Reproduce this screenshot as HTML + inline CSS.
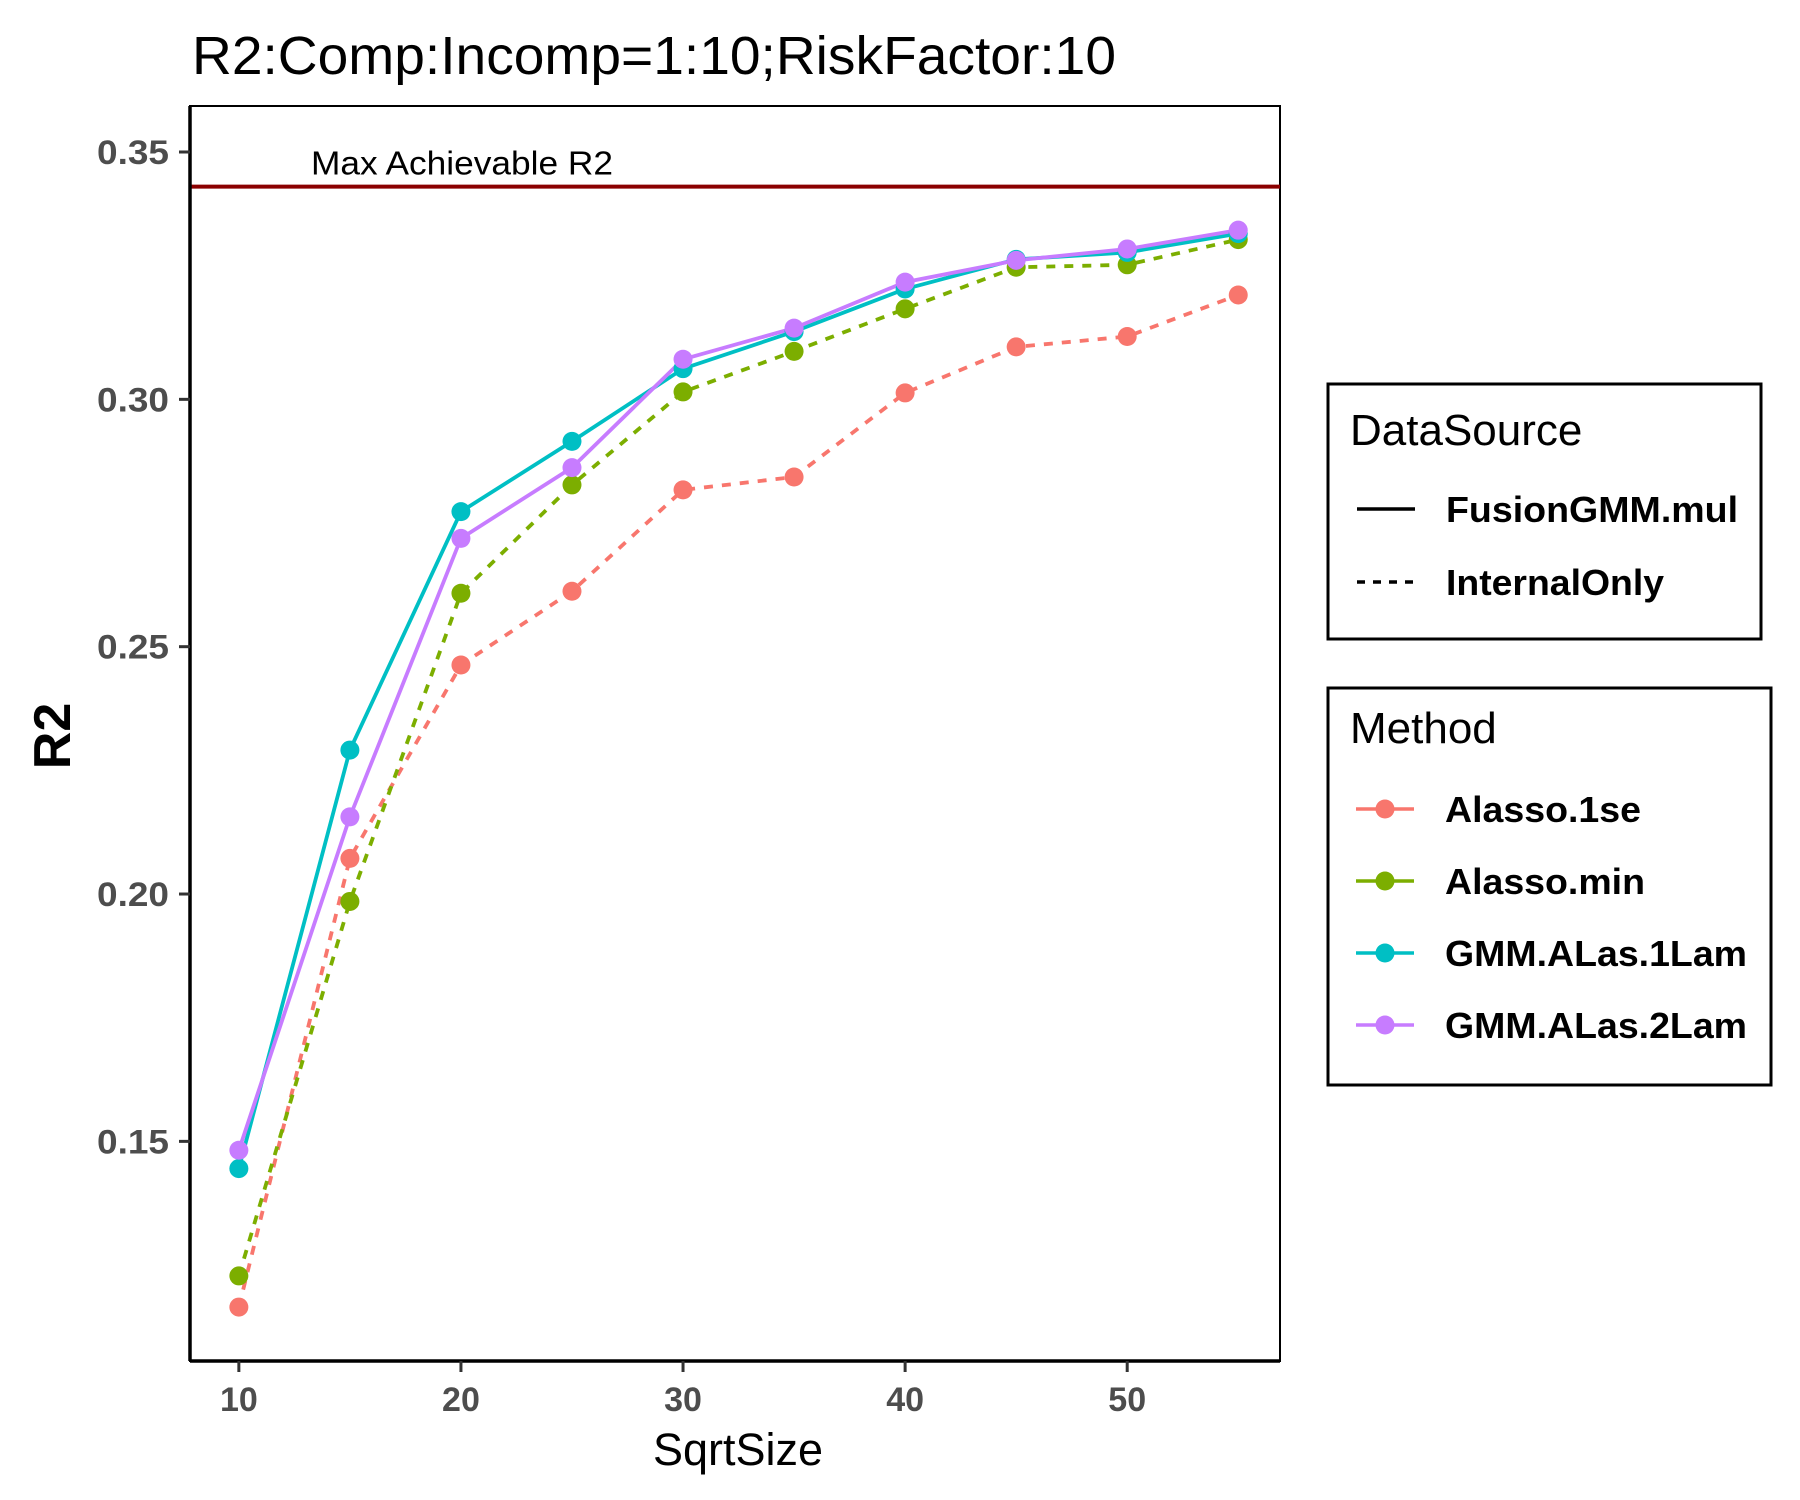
<!DOCTYPE html>
<html><head><meta charset="utf-8"><style>
body{margin:0;background:#fff}
svg{display:block;font-family:"Liberation Sans",Arial,sans-serif}
</style></head><body>
<svg id="chart" width="1800" height="1500" viewBox="0 0 1800 1500">
<text x="192" y="74" font-size="54" textLength="924" lengthAdjust="spacingAndGlyphs">R2:Comp:Incomp=1:10;RiskFactor:10</text>
<g id="plot"></g>
<g transform="translate(-7,0)">
<rect x="1335" y="384" width="433" height="255" fill="none" stroke="#000" stroke-width="3"/>
<text x="1357" y="445" font-size="44">DataSource</text>
<line x1="1364" y1="509" x2="1422" y2="509" stroke="#000" stroke-width="3.5"/>
<text x="1453" y="522" font-size="36" font-weight="bold" textLength="292" lengthAdjust="spacingAndGlyphs">FusionGMM.mul</text>
<line x1="1364" y1="582" x2="1422" y2="582" stroke="#000" stroke-width="3.5" stroke-dasharray="8,8"/>
<text x="1453" y="595" font-size="36" font-weight="bold" textLength="218" lengthAdjust="spacingAndGlyphs">InternalOnly</text>
</g>
<g id="legend-method" transform="translate(-7,0)">
<rect x="1335" y="688" width="443" height="397" fill="none" stroke="#000" stroke-width="3"/>
<text x="1357" y="743" font-size="44">Method</text>
</g>
</svg>
<script>
const sizes=[10,15,20,25,30,35,40,45,50,55];
const alasso1se=[0.1165,0.2072,0.2463,0.2612,0.2817,0.2843,0.3013,0.3106,0.3127,0.3211];
const alassoMin=[0.1228,0.1985,0.2608,0.2827,0.3015,0.3097,0.3183,0.3267,0.3272,0.3323];
const gmm1Lam=[0.1445,0.2291,0.2773,0.2915,0.3062,0.3137,0.3223,0.3283,0.3297,0.3335];
const gmm2Lam=[0.1482,0.2156,0.2719,0.2862,0.3081,0.3144,0.3237,0.3281,0.3304,0.3342];
const maxR2=[0.343];
const xTicks=[10,20,30,40,50];
const yTicks=[0.15,0.20,0.25,0.30,0.35];
const yTickLabels=["0.15","0.20","0.25","0.30","0.35"];
const methodNames=["Alasso.1se","Alasso.min","GMM.ALas.1Lam","GMM.ALas.2Lam"];
const methodWidths=[196,200,302,302];

const NS="http://www.w3.org/2000/svg";
const L=190,R=1280,T=106,B=1361;
const xMin=7.8,xMax=56.88,yMin=0.1056,yMax=0.3593;
const sx=v=>L+(v-xMin)/(xMax-xMin)*(R-L);
const sy=v=>B-(v-yMin)/(yMax-yMin)*(B-T);
const plot=document.getElementById('plot');
function mk(tag,attrs,parent){const e=document.createElementNS(NS,tag);for(const k in attrs)e.setAttribute(k,attrs[k]);(parent||plot).appendChild(e);return e;}

let r=mk('rect',{x:L,y:T,width:R-L,height:B-T,fill:'#fff',stroke:'#000','stroke-width':2});



let ml=mk('line',{x1:L,x2:R,y1:sy(maxR2[0]),y2:sy(maxR2[0]),stroke:'#8b0000','stroke-width':4});


let mt=mk('text',{x:311,y:sy(maxR2[0])-12,'font-size':33,textLength:302,lengthAdjust:'spacingAndGlyphs'});
mt.textContent='Max Achievable R2';



const series=[
 {vals:alasso1se,color:'#F8766D',dash:'9,9',name:'alasso-1se'},
 {vals:alassoMin,color:'#7CAE00',dash:'9,9',name:'alasso-min'},
 {vals:gmm1Lam,color:'#00BFC4',dash:'',name:'gmm-alas-1lam'},
 {vals:gmm2Lam,color:'#C77CFF',dash:'',name:'gmm-alas-2lam'}];
series.forEach(s=>{
 const g=mk('g',{});
 
 
 const pts=sizes.map((x,i)=>sx(x)+','+sy(s.vals[i])).join(' ');
 const pl=mk('polyline',{points:pts,fill:'none',stroke:s.color,'stroke-width':3.8,'stroke-dasharray':s.dash},g);
 
 
});
series.forEach(s=>{
 sizes.forEach((x,i)=>{
  const c=mk('circle',{cx:sx(x),cy:sy(s.vals[i]),r:9.5,fill:s.color});
  
  
 });
});

let ax=mk('line',{x1:L,x2:R,y1:B,y2:B,stroke:'#000','stroke-width':3.5});


let ay=mk('line',{x1:L,x2:L,y1:T,y2:B,stroke:'#000','stroke-width':3.5});



xTicks.forEach(v=>{
 const t=mk('line',{x1:sx(v),x2:sx(v),y1:B,y2:B+11,stroke:'#333','stroke-width':3});
 
 
 const l=mk('text',{x:sx(v),y:B+50,'font-size':34,'font-weight':'bold',fill:'#4d4d4d','text-anchor':'middle'});
 l.textContent=String(v);
 
 
});
yTicks.forEach((v,i)=>{
 const t=mk('line',{x1:L-11,x2:L,y1:sy(v),y2:sy(v),stroke:'#333','stroke-width':3});
 
 
 const l=mk('text',{x:L-21,y:sy(v)+12,'font-size':34,'font-weight':'bold',fill:'#4d4d4d','text-anchor':'end',textLength:72,lengthAdjust:'spacingAndGlyphs'});
 l.textContent=yTickLabels[i];
 
 
});
let xt=mk('text',{x:738,y:1465,'font-size':45,'text-anchor':'middle',textLength:170,lengthAdjust:'spacingAndGlyphs'});
xt.textContent='SqrtSize';


let yt=mk('text',{x:0,y:0,'font-size':52,'font-weight':'bold','text-anchor':'middle',transform:'translate(70,736) rotate(-90)'});
yt.textContent='R2';



const lg=document.getElementById('legend-method');
series.forEach((s,i)=>{
 const y=809+i*72;
 const kl=mk('line',{x1:1363,x2:1421,y1:y,y2:y,stroke:s.color,'stroke-width':3.5},lg);
 
 
 const kc=mk('circle',{cx:1392,cy:y,r:9.5,fill:s.color},lg);
 
 
 const tx=mk('text',{x:1452,y:y+13,'font-size':36,'font-weight':'bold',textLength:methodWidths[i],lengthAdjust:'spacingAndGlyphs'},lg);
 tx.textContent=methodNames[i];
 
 
});
</script>
</body></html>
